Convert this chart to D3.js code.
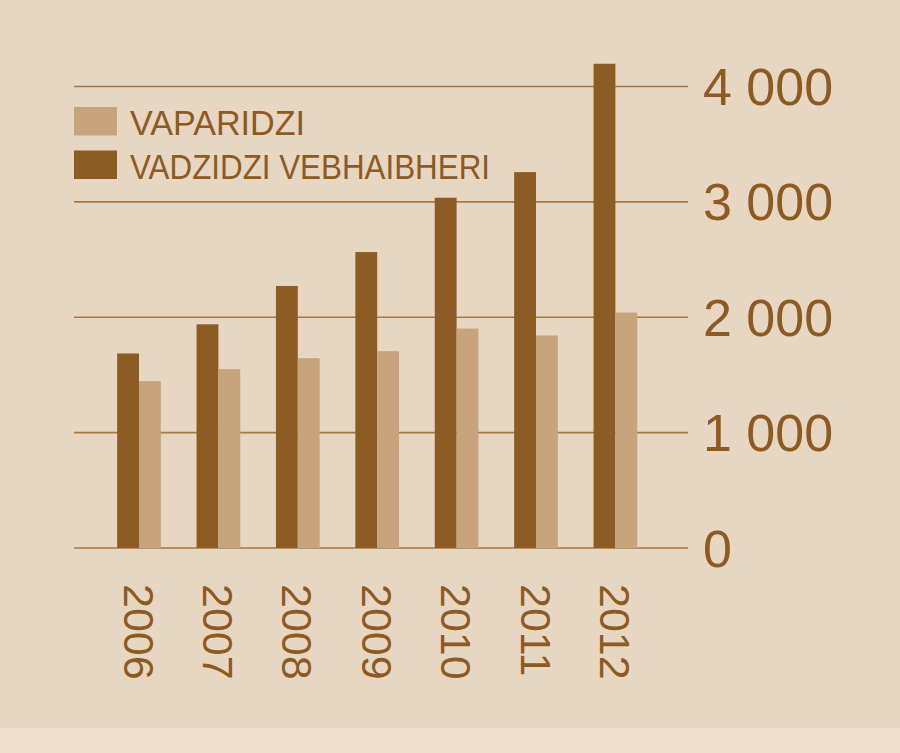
<!DOCTYPE html>
<html><head><meta charset="utf-8">
<script src="https://cdn.jsdelivr.net/npm/d3@7"></script>
<style>
html,body{margin:0;padding:0;background:#e7d6c2;}
svg{display:block;}
</style></head>
<body>
<svg id="chart" width="900" height="753"></svg>
<script>
const years = ["2006","2007","2008","2009","2010","2011","2012"];
const seriesNames = ["VAPARIDZI","VADZIDZI VEBHAIBHERI"];
const vaparidzi = [1446,1550,1645,1706,1902,1842,2041];
const vadzidzi = [1686,1939,2271,2565,3036,3258,4197];
const yTicks = [0,1000,2000,3000,4000];
const yTickLabels = ["0","1 000","2 000","3 000","4 000"];

const colLight = "#c7a47c", colDark = "#8c5c24", colText = "#8c5a22", colGrid = "#a67844";
const svg = d3.select("#chart");
svg.append("rect").attr("x",0).attr("y",0).attr("width",900).attr("height",753).attr("fill","#e7d6c2");
svg.append("rect").attr("x",0).attr("y",728).attr("width",900).attr("height",25).attr("fill","#efe0cd");

const y = d3.scaleLinear().domain([0,4000]).range([548,86.5]);
const x = d3.scaleBand().domain(years).range([99.3,655.1]).paddingInner(0.45).paddingOuter(0.225);
const xs = d3.scaleBand().domain(["dark","light"]).range([0,x.bandwidth()]);

// gridlines
svg.append("g").selectAll("line").data(yTicks).join("line")
  .attr("x1",74).attr("x2",688)
  .attr("y1",d=>y(d)).attr("y2",d=>y(d))
  .attr("stroke",colGrid).attr("stroke-width",1.6);

// y labels
svg.append("g").selectAll("text").data(yTicks).join("text")
  .attr("x",703).attr("y",d=>y(d)+18.5)
  .attr("fill",colText).attr("font-family","'Liberation Sans', Arial, sans-serif")
  .attr("font-size",52)
  .text((d,i)=>yTickLabels[i]);

// bars
const g = svg.append("g");
years.forEach((yr,i)=>{
  g.append("rect").attr("x",x(yr)+xs("dark")).attr("width",xs.bandwidth())
    .attr("y",y(vadzidzi[i])).attr("height",y(0)-y(vadzidzi[i])).attr("fill",colDark);
  g.append("rect").attr("x",x(yr)+xs("light")).attr("width",xs.bandwidth())
    .attr("y",y(vaparidzi[i])).attr("height",y(0)-y(vaparidzi[i])).attr("fill",colLight);
});

// x labels
svg.append("g").selectAll("text").data(years).join("text")
  .attr("transform",d=>`translate(${x(d)+x.bandwidth()/2},584) rotate(90)`)
  .attr("dy","0.36em")
  .attr("fill",colText).attr("font-family","'Liberation Sans', Arial, sans-serif")
  .attr("font-size",43)
  .text(d=>d);

// legend
const legend = svg.append("g");
const legColors = [colLight, colDark];
seriesNames.forEach((nm,i)=>{
  legend.append("rect").attr("x",74).attr("y",107+i*43.5).attr("width",43).attr("height",28.5).attr("fill",legColors[i]);
  legend.append("text").attr("x",130).attr("y",135+i*43.5)
    .attr("fill",colText).attr("font-family","'Liberation Sans', Arial, sans-serif")
    .attr("font-size",35.5).attr("textLength", i===0?175:360).attr("lengthAdjust","spacingAndGlyphs")
    .text(nm);
});
</script>
</body></html>
